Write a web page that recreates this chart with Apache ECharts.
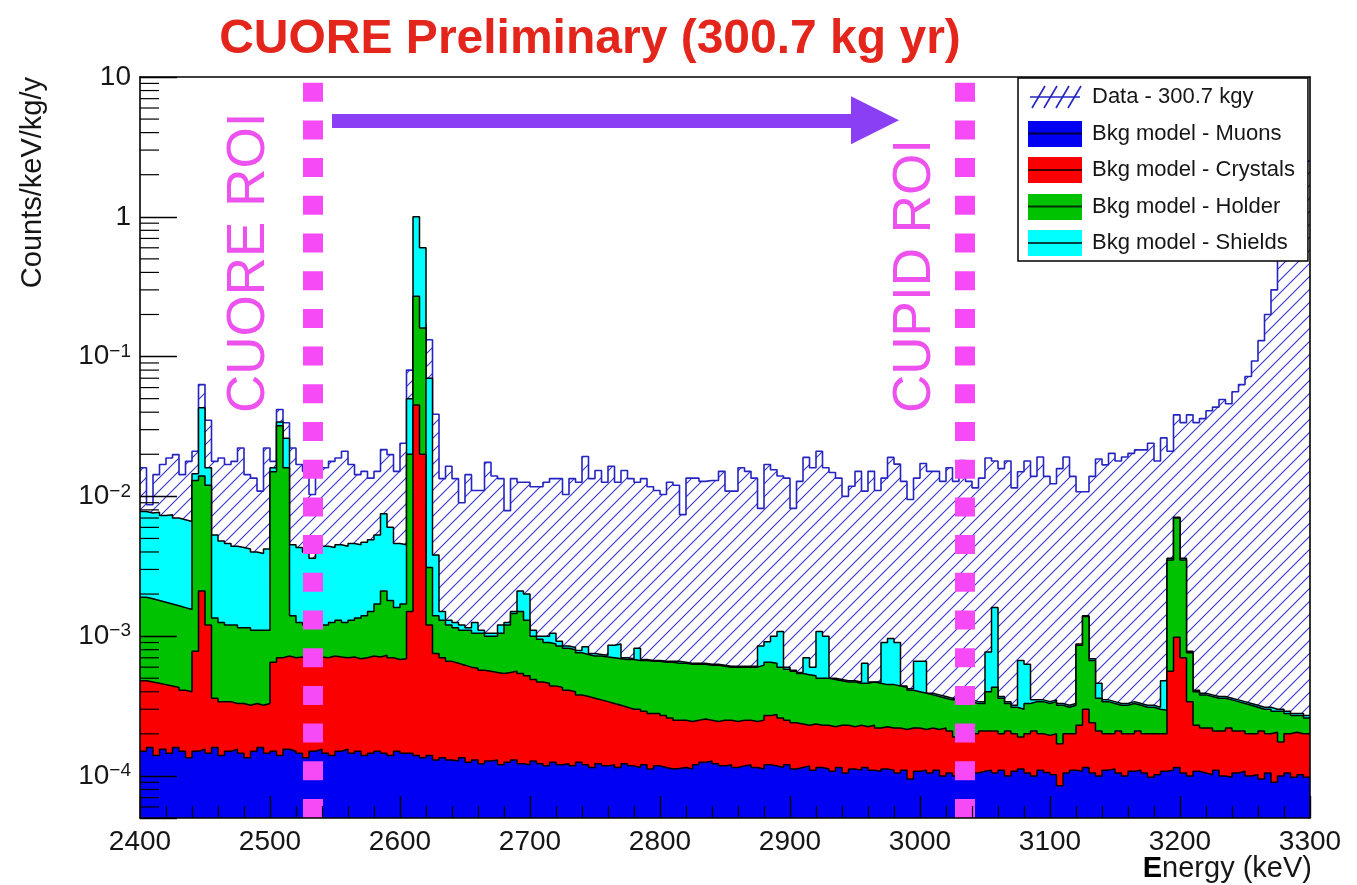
<!DOCTYPE html>
<html>
<head>
<meta charset="utf-8">
<title>CUORE Preliminary (300.7 kg yr)</title>
<script src="https://cdn.jsdelivr.net/npm/echarts@6.0.0/dist/echarts.min.js"></script>
<style>
html,body{margin:0;padding:0;background:#ffffff;}
#chart{width:1357px;height:885px;}
</style>
</head>
<body>
<div id="chart"></div>
<script>
// ---------------- binning & axis ticks ----------------
const binLow = 2400;          // keV, first bin edge
const binWidth = 5;           // keV per bin
const energyTicks = [2400, 2500, 2600, 2700, 2800, 2900, 3000, 3100, 3200, 3300];
const countRange = [5e-5, 10];

const seriesNames = {
  data: 'Data - 300.7 kgy',
  muons: 'Bkg model - Muons',
  crystals: 'Bkg model - Crystals',
  holder: 'Bkg model - Holder',
  shields: 'Bkg model - Shields'
};

// ---------------- measured spectrum (counts/keV/kg/y), 5 keV bins ----------------
const dataCounts = [
  0.016,0.0087,0.0143,0.0169,0.0188,0.0199,0.0143,0.0178,0.021,0.063,
  0.035,0.0178,0.0188,0.0169,0.0178,0.0222,0.0143,0.0135,0.0109,0.0222,
  0.0178,0.0418,0.0336,0.0222,0.0169,0.0151,0.0103,0.0143,0.016,0.0178,
  0.0188,0.021,0.0169,0.0143,0.0151,0.0135,0.0151,0.0216,0.0199,0.0151,
  0.024,0.08,0.17,0.17,0.132,0.0387,0.0134,0.0164,0.0134,0.009,
  0.0143,0.011,0.011,0.0175,0.014,0.0134,0.0079,0.0134,0.0126,0.0126,
  0.0117,0.0117,0.0126,0.0134,0.0134,0.0103,0.0134,0.0126,0.0193,0.0134,
  0.0153,0.0126,0.0164,0.0126,0.0153,0.0134,0.0126,0.0134,0.0117,0.011,
  0.0103,0.0126,0.012,0.0074,0.0135,0.0135,0.0128,0.013,0.013,0.0151,
  0.0109,0.0109,0.016,0.0151,0.0135,0.0082,0.0169,0.0155,0.014,0.0135,
  0.0082,0.0128,0.019,0.016,0.021,0.016,0.0148,0.0135,0.010,0.0118,
  0.0151,0.0109,0.0151,0.011,0.0135,0.019,0.017,0.0128,0.0095,0.0135,
  0.0172,0.0151,0.0151,0.0128,0.016,0.0128,0.018,0.0128,0.0115,0.0135,
  0.0188,0.0179,0.0158,0.0179,0.0115,0.015,0.0179,0.0139,0.0191,0.0139,
  0.0123,0.0158,0.0191,0.0139,0.0108,0.0108,0.0139,0.0185,0.0168,0.0203,
  0.0179,0.0191,0.0203,0.0215,0.0215,0.024,0.0179,0.0262,0.021,0.0383,
  0.0337,0.0383,0.0337,0.036,0.041,0.0435,0.0493,0.046,0.056,0.063,
  0.072,0.093,0.13,0.2,0.3,0.5,0.8,1.2,1.8,2.5
];

// ---------------- stacked background model: top of each layer, in units of 1e-4 counts/keV/kg/y ----------------
const modelUnit = 1e-4;
const muonsTop = [
  1.5,1.6,1.4,1.55,1.45,1.6,1.5,1.35,1.5,1.55,
  1.45,1.6,1.4,1.5,1.55,1.45,1.35,1.5,1.6,1.45,
  1.5,1.4,1.55,1.5,1.45,1.35,1.5,1.55,1.45,1.4,
  1.5,1.55,1.45,1.5,1.4,1.45,1.5,1.45,1.4,1.5,
  1.45,1.45,1.4,1.35,1.4,1.3,1.35,1.3,1.28,1.35,
  1.25,1.3,1.22,1.28,1.3,1.2,1.25,1.3,1.22,1.2,
  1.28,1.22,1.18,1.25,1.2,1.22,1.18,1.25,1.2,1.15,
  1.22,1.18,1.2,1.15,1.22,1.18,1.15,1.2,1.12,1.18,
  1.15,1.12,1.13,1.15,1.12,1.2,1.25,1.28,1.22,1.18,
  1.2,1.15,1.18,1.2,1.15,1.12,1.2,1.18,1.15,1.2,
  1.12,1.15,1.18,1.1,1.15,1.12,1.08,1.15,1.05,1.12,
  1.1,1.15,1.1,1.08,1.12,1.1,1.05,1.1,0.95,1.08,
  1.1,1.05,1.1,1.0,1.05,1.0,1.02,1.0,1.05,1.08,
  1.1,1.05,1.1,1.0,1.08,1.12,1.05,1.0,1.1,1.06,
  1.02,0.85,1.05,1.1,1.08,1.15,1.05,1.0,1.1,1.12,
  1.05,1.0,1.08,1.1,1.05,0.98,1.02,1.08,1.1,1.15,
  1.05,1.0,1.08,1.05,1.02,1.1,1.0,0.98,1.05,1.08,
  1.0,1.02,0.95,1.05,0.9,1.0,1.05,0.98,1.02,0.98
];
const crystalsTop = [
  4.8,4.7,4.6,4.5,4.4,4.3,4.1,4.0,7.8,21,
  12,3.6,3.4,3.4,3.3,3.3,3.2,3.3,3.2,3.3,
  6.5,7.0,7.2,7.0,7.1,7.0,7.2,7.1,7.0,7.2,
  7.1,7.0,7.1,6.9,7.0,7.2,7.1,7.3,7.0,6.8,
  6.9,15,450,200,12,7.5,7.0,6.6,6.4,6.2,
  6.0,5.9,5.7,5.6,5.5,5.4,5.5,5.6,5.4,5.2,
  4.9,4.7,4.6,4.4,4.3,4.1,4.0,3.8,3.7,3.6,
  3.5,3.4,3.3,3.2,3.1,3.0,3.0,2.9,2.8,2.8,
  2.7,2.6,2.5,2.5,2.45,2.5,2.55,2.5,2.45,2.5,
  2.5,2.45,2.5,2.5,2.45,2.5,2.7,2.75,2.6,2.5,
  2.4,2.35,2.3,2.35,2.3,2.3,2.25,2.3,2.3,2.25,
  2.3,2.25,2.3,2.2,2.25,2.2,2.2,2.15,2.2,2.2,
  2.15,2.2,2.15,2.2,2.1,1.9,1.85,1.9,2.0,2.1,
  2.1,2.1,2.0,2.1,2.0,1.9,2.0,2.1,2.0,1.95,
  2.0,1.7,2.0,2.0,2.3,3.0,2.4,2.1,2.0,2.0,
  2.1,2.0,2.0,2.1,2.0,2.0,2.0,2.0,5.6,9.8,
  7.0,3.4,2.3,2.2,2.2,2.1,2.1,2.2,2.1,2.1,
  2.0,2.0,2.1,2.0,2.05,1.75,2.0,2.05,2.0,2.0
];
const holderTop = [
  19,18.5,18,17.5,17,16.5,16,15.5,130,140,
  120,13.5,12.5,12,12,11.5,11.5,11,11,11,
  150,320,160,14,12.5,12,12,12.5,12,12.5,
  13,12.5,13,13.5,14,15,17,21,18,16,
  17,200,2700,1600,31,14,13,12,11.5,11,
  11,10.5,10.5,10,10,10.5,12,14.5,15,13,
  10,9.5,9.0,8.8,8.5,8.2,8.0,7.6,7.4,7.2,
  7.2,7.1,7.0,6.9,6.8,6.8,6.7,6.7,6.6,6.6,
  6.5,6.5,6.4,6.4,6.3,6.3,6.3,6.2,6.2,6.1,
  6.0,6.0,6.0,6.0,6.0,6.2,6.5,6.4,6.0,5.8,
  5.6,5.4,5.3,5.2,5.0,5.0,4.9,4.8,4.7,4.7,
  4.6,4.6,4.7,4.6,4.5,4.5,4.4,4.3,4.1,4.0,
  3.9,3.8,3.7,3.6,3.5,3.5,3.4,3.4,3.3,3.3,
  4.0,4.3,3.6,3.3,3.1,3.0,3.3,3.4,3.4,3.3,
  3.4,3.2,3.1,3.2,8.6,13.8,6.7,3.6,3.4,3.3,
  3.2,3.2,3.3,3.2,3.1,3.1,3.0,2.95,35,70,
  35,7.6,4.0,3.8,3.7,3.6,3.6,3.5,3.4,3.3,
  3.2,3.1,3.0,3.0,2.9,2.9,2.8,2.7,2.7,2.6
];
const shieldsTop = [
  78,76,77,73,74,70,68,66,145,430,
  160,53,48,46,44,43,42,40,39,42,
  160,340,260,45,43,40,36,42,44,43,
  45,44,46,45,47,49,53,75,60,46,
  45,500,10000,6000,700,38,15,13,12.5,12,
  11.5,12.5,11,10.5,10.5,12,12.5,15,21,20,
  11,10,10,10.5,9.2,8.5,8.3,7.9,8.4,7.5,
  7.4,7.3,8.6,8.8,7.0,6.9,8.2,6.8,6.7,6.7,
  6.6,6.6,6.6,6.5,6.4,6.4,6.4,6.3,6.3,6.2,
  6.1,6.1,6.1,6.1,6.1,8.5,9.1,10,10.8,6.0,
  5.7,5.5,7.0,6.0,10.8,10,5.0,4.9,4.8,4.8,
  4.7,6.4,4.7,4.7,9.0,9.6,9.0,4.4,4.2,6.6,
  6.6,3.9,3.8,3.7,3.6,3.6,3.5,3.5,3.4,3.4,
  7.7,16,3.7,3.4,3.2,6.7,6.3,3.5,3.5,3.4,
  3.5,3.3,3.2,3.3,8.8,14,6.9,4.6,3.5,3.4,
  3.3,3.3,3.4,3.3,3.2,3.2,3.1,4.8,36,71,
  36,7.8,4.1,3.9,3.8,3.7,3.7,3.6,3.5,3.4,
  3.3,3.2,3.1,3.1,3.0,3.0,2.9,2.8,2.8,2.7
];

// ---------------- annotations ----------------
const cuoreRoiEnergy = 2533;
const cupidRoiEnergy = 3034.5;
const arrowFrom = 2547.7, arrowTo = 2965.4, arrowLevel = 4.9;

// ---------------- styling ----------------
const FONT = '"Liberation Sans", Arial, Helvetica, sans-serif';
const C = {
  data: '#2424c2', hatch: '#3434cc',
  muons: '#0000f2', crystals: '#fb0000', holder: '#00c200', shields: '#00ffff',
  roi: '#f64af6', roiText: '#ee52ee', arrow: '#8b3ff4', title: '#e3251c'
};

function histPoints(values, unit) {
  const pts = values.map((v, i) => [binLow + i * binWidth, v * unit]);
  pts.push([binLow + values.length * binWidth, values[values.length - 1] * unit]);
  return pts;
}

function makeHatch() {
  const s = 13, c = document.createElement('canvas');
  c.width = s; c.height = s;
  const g = c.getContext('2d');
  g.strokeStyle = C.hatch; g.lineWidth = 1.1;
  g.beginPath();
  g.moveTo(-1, s + 1); g.lineTo(s + 1, -1);
  g.moveTo(-s / 2 - 1, s / 2 + 1); g.lineTo(s / 2 + 1, -s / 2 - 1);
  g.moveTo(s / 2 - 1, s * 1.5 + 1); g.lineTo(s * 1.5 + 1, s / 2 - 1);
  g.stroke();
  return c;
}
function boxIcon(fill) {
  const c = document.createElement('canvas');
  c.width = 54; c.height = 26;
  const g = c.getContext('2d');
  g.fillStyle = fill; g.fillRect(0, 0, 54, 26);
  g.strokeStyle = '#000'; g.lineWidth = 1.6;
  g.beginPath(); g.moveTo(0, 13); g.lineTo(54, 13); g.stroke();
  return 'image://' + c.toDataURL();
}
function hatchIcon() {
  const c = document.createElement('canvas');
  c.width = 54; c.height = 26;
  const g = c.getContext('2d');
  g.strokeStyle = C.data; g.lineWidth = 1.6;
  g.beginPath();
  for (let k = 0; k < 4; k++) { g.moveTo(4 + 12 * k, 24); g.lineTo(17 + 12 * k, 2); }
  g.moveTo(2, 13); g.lineTo(52, 13);
  g.stroke();
  return 'image://' + c.toDataURL();
}

function yLabel(v) {
  const e = Math.log10(v), r = Math.round(e);
  if (Math.abs(e - r) > 1e-6) return '';
  if (r === 1) return '10';
  if (r === 0) return '1';
  return '{b|10}{s|\u2212' + Math.abs(r) + '}';
}

// minor tick positions on the logarithmic y axis (2..9 x 10^k)
const yMinorTicks = [];
for (let e = -5; e <= 0; e++) {
  for (let m = 2; m <= 9; m++) {
    const v = m * Math.pow(10, e);
    if (v > countRange[0] && v < countRange[1]) yMinorTicks.push([binLow, v]);
  }
}

function modelSeries(name, values, color, z) {
  return {
    name: name, type: 'line', step: 'end', data: histPoints(values, modelUnit),
    symbol: 'none', showSymbol: false, silent: true, animation: false, z: z,
    lineStyle: { color: '#000', width: 1.5 },
    itemStyle: { color: color },
    areaStyle: { color: color, opacity: 1, origin: 'start' }
  };
}

const chart = echarts.init(document.getElementById('chart'), null, { renderer: 'canvas' });
const option = {
  animation: false,
  backgroundColor: '#ffffff',
  textStyle: { fontFamily: FONT },
  grid: { left: 140, right: 47, top: 77, bottom: 67, containLabel: false },
  legend: {
    orient: 'vertical', left: 1018, top: 78,
    itemWidth: 54, itemHeight: 26, itemGap: 10.5,
    padding: [6, 13, 5, 10],
    backgroundColor: '#ffffff', borderColor: '#000', borderWidth: 1.5, borderRadius: 0,
    selectedMode: false, z: 20,
    textStyle: { fontSize: 22, color: '#161616', fontFamily: FONT, padding: [0, 0, 0, 5] },
    data: [
      { name: seriesNames.data, icon: hatchIcon() },
      { name: seriesNames.muons, icon: boxIcon(C.muons) },
      { name: seriesNames.crystals, icon: boxIcon(C.crystals) },
      { name: seriesNames.holder, icon: boxIcon(C.holder) },
      { name: seriesNames.shields, icon: boxIcon(C.shields) }
    ]
  },
  xAxis: [{
    type: 'value', position: 'bottom',
    min: energyTicks[0], max: energyTicks[energyTicks.length - 1], interval: energyTicks[1] - energyTicks[0],
    z: 12,
    axisLine: { show: true, onZero: false, lineStyle: { color: '#000', width: 1.6 } },
    axisTick: { show: true, inside: true, length: 22, lineStyle: { color: '#000', width: 1.4 } },
    minorTick: { show: true, splitNumber: 5, length: 12, lineStyle: { color: '#000', width: 1.2 } },
    axisLabel: { fontSize: 28, color: '#161616', margin: 10, fontFamily: FONT, showMinLabel: true, showMaxLabel: true,
                 formatter: function (v) { return String(Math.round(v)); } },
    splitLine: { show: false }, minorSplitLine: { show: false }
  }, {
    type: 'value', position: 'top',
    min: energyTicks[0], max: energyTicks[energyTicks.length - 1],
    z: 12,
    axisLine: { show: true, onZero: false, lineStyle: { color: '#000', width: 1.6 } },
    axisTick: { show: false }, axisLabel: { show: false }, splitLine: { show: false }
  }],
  yAxis: [{
    type: 'log', logBase: 10, position: 'left',
    min: countRange[0], max: countRange[1],
    z: 12,
    axisLine: { show: true, onZero: false, lineStyle: { color: '#000', width: 1.6 } },
    axisTick: { show: true, inside: true, length: 37, lineStyle: { color: '#000', width: 1.4 } },
    minorTick: { show: false },
    axisLabel: {
      fontSize: 28, color: '#161616', margin: 9, fontFamily: FONT,
      showMinLabel: true, showMaxLabel: true,
      formatter: yLabel,
      rich: {
        b: { fontSize: 28, color: '#161616', fontFamily: FONT },
        s: { fontSize: 19, color: '#161616', fontFamily: FONT, padding: [0, 0, 10, 0] }
      }
    },
    splitLine: { show: false }
  }, {
    type: 'log', logBase: 10, position: 'right',
    min: countRange[0], max: countRange[1],
    z: 12,
    axisLine: { show: true, onZero: false, lineStyle: { color: '#000', width: 1.6 } },
    axisTick: { show: false }, axisLabel: { show: false }, splitLine: { show: false }
  }],
  series: [
    {
      name: seriesNames.data, type: 'line', step: 'end', data: histPoints(dataCounts, 1),
      symbol: 'none', showSymbol: false, silent: true, animation: false, z: 2,
      lineStyle: { color: C.data, width: 1.6 },
      itemStyle: { color: C.data },
      areaStyle: { color: { image: makeHatch(), repeat: 'repeat' }, opacity: 1, origin: 'start' }
    },
    modelSeries(seriesNames.shields, shieldsTop, C.shields, 3),
    modelSeries(seriesNames.holder, holderTop, C.holder, 4),
    modelSeries(seriesNames.crystals, crystalsTop, C.crystals, 5),
    modelSeries(seriesNames.muons, muonsTop, C.muons, 6),
    {
      name: 'roi', type: 'line', data: [], silent: true, animation: false, z: 10,
      markLine: {
        z: 10,
        silent: true, animation: false, symbol: ['none', 'none'], label: { show: false },
        lineStyle: { color: C.roi, width: 20, type: [19, 18.7], cap: 'butt' },
        emphasis: { disabled: true },
        data: [{ xAxis: cuoreRoiEnergy }, { xAxis: cupidRoiEnergy }]
      }
    },
    {
      name: 'arrow', type: 'line', data: [], silent: true, animation: false, z: 10,
      markLine: {
        z: 10,
        silent: true, animation: false, symbol: ['none', 'triangle'], symbolSize: 48,
        label: { show: false },
        lineStyle: { color: C.arrow, width: 14, type: 'solid', cap: 'butt' },
        itemStyle: { color: C.arrow },
        emphasis: { disabled: true },
        data: [[{ coord: [arrowFrom, arrowLevel] }, { coord: [arrowTo, arrowLevel] }]]
      }
    },
    {
      name: 'yMinorTicks', type: 'custom', silent: true, animation: false, z: 12,
      data: yMinorTicks, encode: { x: 0, y: 1 },
      renderItem: function (params, api) {
        const p = api.coord([api.value(0), api.value(1)]);
        return { type: 'line', shape: { x1: p[0], y1: p[1], x2: p[0] + 19, y2: p[1] },
                 style: { stroke: '#000', lineWidth: 1.2 } };
      }
    }
  ],
  graphic: [
    { type: 'text', x: 590, y: 40, z: 30,
      style: { text: 'CUORE Preliminary (300.7 kg yr)', fill: C.title, fontSize: 48, fontWeight: 'bold',
               fontFamily: FONT, align: 'center', verticalAlign: 'middle' } },
    { type: 'text', x: 33, y: 77, rotation: Math.PI / 2, z: 30,
      style: { text: 'Counts/keV/kg/y', fill: '#161616', fontSize: 29, fontFamily: FONT,
               align: 'right', verticalAlign: 'middle' } },
    { type: 'text', x: 1312, y: 869, z: 30,
      style: { text: '{e|E}nergy (keV)', fill: '#161616', fontSize: 29, fontFamily: FONT,
               align: 'right', verticalAlign: 'middle',
               rich: { e: { fontSize: 29, fontWeight: 'bold', fontFamily: FONT, fill: '#000' } } } },
    { type: 'text', x: 249, y: 413, rotation: Math.PI / 2, z: 30,
      style: { text: 'CUORE ROI', fill: C.roiText, fontSize: 53, fontFamily: FONT,
               align: 'left', verticalAlign: 'middle' } },
    { type: 'text', x: 915, y: 413, rotation: Math.PI / 2, z: 30,
      style: { text: 'CUPID ROI', fill: C.roiText, fontSize: 53, fontFamily: FONT,
               align: 'left', verticalAlign: 'middle' } }
  ]
};
chart.setOption(option);
</script>
</body>
</html>
